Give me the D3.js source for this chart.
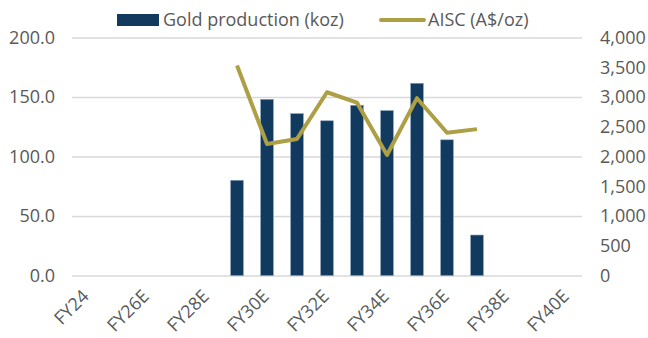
<!DOCTYPE html>
<html>
<head>
<meta charset="utf-8">
<script src="https://cdn.jsdelivr.net/npm/d3@7/dist/d3.min.js"></script>
<style>
    body { margin: 0; background: #fff; }
    text { font-family: "Open Sans", sans-serif; fill: #595959; }
</style>
</head>
<body>
<div id="chart"></div>
<script>
const categories = ["FY24", "FY25E", "FY26E", "FY27E", "FY28E", "FY29E", "FY30E", "FY31E", "FY32E",
    "FY33E", "FY34E", "FY35E", "FY36E", "FY37E", "FY38E", "FY39E", "FY40E"]
const productionKoz = [null, null, null, null, null, 80, 148, 136, 130, 143, 138.5, 161.5, 114, 34, null, null, null]
const aiscAud = [null, null, null, null, null, 3530, 2210, 2295, 3080, 2905, 2025, 2980, 2400, 2460, null, null, null]
const leftTicks = [0, 50, 100, 150, 200]
const rightTicks = [0, 500, 1000, 1500, 2000, 2500, 3000, 3500, 4000]
const seriesNames = ["Gold production (koz)", "AISC (A$/oz)"]

const barColor = "#113a5e", lineColor = "#ad9f45"
const fontSize = 18
const W = 648, H = 338
const margin = { top: 37.5, right: 66, bottom: 62.5, left: 72 }
const plotW = W - margin.left - margin.right,
    plotH = H - margin.top - margin.bottom

const svg = d3.select("#chart").append("svg")
    .attr("width", W)
    .attr("height", H)

const g = svg.append("g").attr("transform", "translate(" + margin.left + "," + margin.top + ")")

const x = d3.scaleBand().domain(categories).range([0, plotW]).paddingInner(0.58).paddingOuter(0.29)
const xPoint = (c) => x(c) + x.bandwidth() / 2
const yLeft = d3.scaleLinear().domain([0, 200]).range([plotH, 0])
const yRight = d3.scaleLinear().domain([0, 4000]).range([plotH, 0])

// gridlines (left axis ticks)
g.append("g")
    .call(d3.axisLeft(yLeft).tickValues(leftTicks).tickSize(-plotW).tickFormat(""))
    .call(a => a.select(".domain").remove())
    .selectAll("line").attr("stroke", "#d9d9d9").attr("stroke-width", 1.3)

// left axis labels
g.append("g")
    .call(d3.axisLeft(yLeft).tickValues(leftTicks).tickSize(0).tickPadding(17).tickFormat(d3.format(".1f")))
    .call(a => a.select(".domain").remove())
    .selectAll("text").attr("font-size", fontSize).style("fill", "#595959")

// right axis labels
g.append("g")
    .attr("transform", "translate(" + plotW + ",0)")
    .call(d3.axisRight(yRight).tickValues(rightTicks).tickSize(0).tickPadding(18).tickFormat(d3.format(",")))
    .call(a => a.select(".domain").remove())
    .selectAll("text").attr("font-size", fontSize).style("fill", "#595959")

// x axis, every other label
const xAxis = g.append("g")
    .attr("transform", "translate(0," + plotH + ")")
    .call(d3.axisBottom(x).tickValues(categories.filter((d, i) => i % 2 === 0)).tickSize(0))
xAxis.select(".domain").remove()
xAxis.selectAll("text")
    .attr("font-size", fontSize)
    .style("fill", "#595959")
    .attr("text-anchor", "end")
    .attr("x", 0)
    .attr("y", 0)
    .attr("dy", 0)
    .attr("transform", "translate(3,22) rotate(-45)")

// bars
g.selectAll(".bar")
    .data(categories.filter((d, i) => productionKoz[i] != null))
    .enter()
    .append("rect")
    .attr("class", "bar")
    .attr("x", d => x(d))
    .attr("y", d => yLeft(productionKoz[categories.indexOf(d)]))
    .attr("width", x.bandwidth())
    .attr("height", d => plotH - yLeft(productionKoz[categories.indexOf(d)]))
    .attr("fill", barColor)
    .attr("stroke", "#7d9ab5")
    .attr("stroke-width", 0.6)

// AISC line
const line = d3.line()
    .defined((d, i) => aiscAud[i] != null)
    .x((d, i) => xPoint(categories[i]))
    .y((d) => yRight(d))
g.append("path")
    .datum(aiscAud)
    .attr("d", line)
    .attr("fill", "none")
    .attr("stroke", lineColor)
    .attr("stroke-width", 4)
    .attr("stroke-linejoin", "round")

// legend
const legend = svg.append("g")
legend.append("rect")
    .attr("x", 117).attr("y", 14).attr("width", 42).attr("height", 12)
    .attr("fill", barColor)
legend.append("text")
    .attr("x", 163).attr("y", 20).attr("dy", "0.35em")
    .attr("font-size", fontSize)
    .text(seriesNames[0])
legend.append("line")
    .attr("x1", 381).attr("x2", 424).attr("y1", 20).attr("y2", 20)
    .attr("stroke", lineColor).attr("stroke-width", 4).attr("stroke-linecap", "round")
legend.append("text")
    .attr("x", 428).attr("y", 20).attr("dy", "0.35em")
    .attr("font-size", fontSize)
    .text(seriesNames[1])
</script>
</body>
</html>
